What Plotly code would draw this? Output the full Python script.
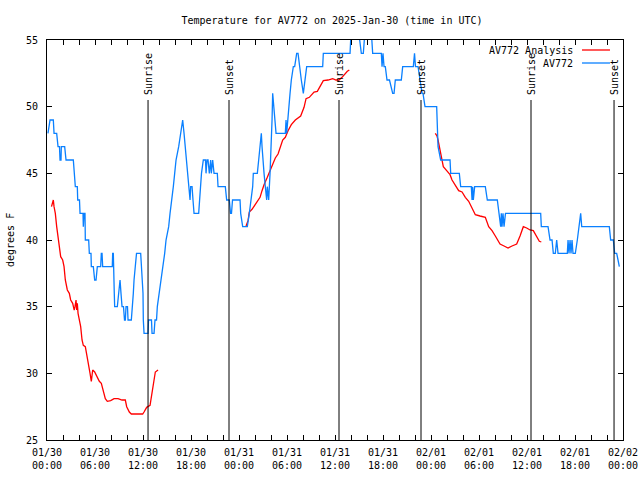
import pandas as pd
import plotly.graph_objects as go

# ---- data (hours since 2025-01-30 00:00 UTC, temperature in degrees F) ----
obs_hours = [0.12, 0.38, 0.79, 0.88, 1.21, 1.38, 1.56, 1.63, 1.75, 1.79, 2.21, 2.38, 3.29, 3.38, 3.54, 3.79,
             3.84, 4.06, 4.13, 4.5, 4.54, 4.63, 4.75, 4.79, 5.21, 5.29, 5.5, 5.54, 5.79, 5.96, 6.13, 6.29,
             6.71, 6.79, 6.88, 6.96, 8.16, 8.21, 8.29, 8.41, 8.46, 8.79, 8.94, 9.04, 9.13, 9.25, 9.38, 9.56,
             9.69, 9.79, 9.88, 10.06, 10.13, 10.54, 10.69, 10.79, 10.88, 11.06, 11.19, 11.71, 11.79, 12.0,
             12.04, 12.13, 12.63, 12.69, 12.79, 13.06, 13.13, 13.38, 13.5, 13.69, 13.79, 14.04, 14.29, 14.54,
             14.71, 14.88, 15.21, 15.38, 15.63, 15.79, 15.96, 16.13, 16.46, 16.71, 16.88, 16.96, 17.13, 17.29,
             17.46, 17.63, 17.79, 17.88, 17.96, 18.13, 18.25, 18.38, 18.96, 19.06, 19.21, 19.31, 19.54, 19.81,
             19.88, 20.0, 20.13, 20.29, 20.46, 20.54, 20.71, 20.88, 21.29, 21.38, 22.29, 22.46, 22.79, 22.94,
             23.06, 23.19, 24.13, 24.21, 24.46, 25.04, 25.29, 25.54, 25.71, 25.79, 26.29, 26.46, 26.63, 26.79,
             26.88, 26.96, 27.13, 27.29, 27.46, 27.54, 27.71, 27.88, 28.04, 28.13, 28.21, 28.38, 28.54, 28.63,
             29.79, 29.88, 29.96, 30.13, 30.21, 30.38, 30.54, 30.79, 30.96, 31.21, 31.38, 31.54, 31.79, 32.04,
             32.21, 32.46, 34.46, 34.54, 37.88, 37.96, 38.04, 38.88, 39.04, 39.29, 39.54, 39.71, 39.79, 40.5,
             40.59, 40.71, 41.79, 41.88, 42.0, 42.13, 42.29, 42.5, 42.81, 43.21, 43.38, 43.54, 44.29, 44.46,
             45.79, 45.94, 46.06, 46.38, 46.63, 46.88, 47.0, 47.25, 48.71, 48.75, 48.81, 48.88, 49.21, 50.38,
             50.46, 51.54, 51.71, 53.04, 53.13, 53.21, 53.29, 53.46, 54.79, 55.04, 56.29, 56.46, 56.71, 56.79,
             56.88, 57.0, 57.13, 57.31, 61.71, 61.79, 62.63, 62.88, 63.13, 63.29, 63.54, 63.71, 63.88, 65.04,
             65.13, 65.25, 65.38, 65.5, 65.63, 65.75, 66.04, 66.29, 66.54, 66.71, 66.84, 67.04, 70.29, 70.46,
             70.79, 70.96, 71.21, 71.38, 71.54]
obs_temp = [48, 49, 49, 48, 48, 47, 47, 46, 46, 47, 47, 46, 46, 45, 44, 44,
            43, 43, 42, 42, 41, 42, 42, 40, 40, 39, 39, 38, 38, 37, 37, 38,
            38, 39, 39, 38, 38, 39, 39, 36, 35, 35, 36, 37, 37, 36, 35, 35,
            34, 34, 35, 35, 34, 34, 35, 36, 37, 38, 39, 39, 38, 36,
            34, 33, 33, 34, 34, 34, 33, 33, 34, 34, 35, 36, 37, 38,
            39, 40, 41, 42, 43, 44, 45, 46, 47, 48, 49, 49, 48, 47,
            46, 45, 44, 43, 44, 44, 43, 42, 42, 43, 44, 45, 46, 46,
            45, 46, 46, 45, 46, 45, 46, 45, 45, 44, 44, 43, 43, 42,
            42, 43, 43, 42, 41, 41, 42, 43, 44, 45, 45, 46, 47, 48,
            47, 46, 45, 44, 43, 44, 43, 45, 47, 49, 51, 50, 49, 48,
            48, 49, 48, 49, 50, 51, 52, 53, 53, 54, 54, 53, 52, 51,
            52, 53, 53, 54, 54, 55, 56, 56, 55, 54, 54, 55, 56, 56,
            55, 54, 54, 53, 54, 53, 53, 52, 52, 51, 51, 52, 52, 53,
            53, 54, 53, 53, 52, 51, 51, 50, 50, 49, 48, 47, 46, 46,
            45, 45, 44, 44, 43, 44, 43, 44, 44, 43, 43, 42, 41, 42,
            41, 42, 41, 42, 42, 41, 41, 40, 40, 39, 39, 40, 39, 39,
            40, 39, 40, 39, 40, 39, 39, 40, 41, 42, 41, 41, 41, 40,
            40, 39, 39, 38.5, 38]

ana_hours_1 = [0.56, 0.69, 0.79, 0.88, 1.04, 1.21, 1.38, 1.54, 1.71, 1.96, 2.13, 2.29, 2.54, 2.79, 2.96, 3.21,
               3.4, 3.5, 3.63, 3.71, 3.79, 3.88, 4.04, 4.21, 4.38, 4.54, 4.79, 4.96, 5.13, 5.21, 5.38, 5.54,
               5.71, 5.96, 6.21, 6.54, 6.79, 7.04, 7.29, 7.54, 7.96, 8.38, 8.88, 9.38, 9.79, 9.96, 10.29,
               10.54, 11.96, 12.13, 12.46, 12.88, 13.04, 13.21, 13.38, 13.54, 13.88]
ana_temp_1 = [42.5, 42.9, 43.0, 42.5, 42.0, 41.0, 40.25, 39.25, 38.75, 38.5, 38.0, 37.0, 36.25, 36.0, 35.5, 35.25,
              34.75, 35.0, 35.5, 34.75, 35.25, 34.5, 34.0, 33.5, 32.5, 32.1, 32.0, 31.5, 31.0, 30.5, 30.0, 29.4,
              30.25, 30.1, 29.75, 29.4, 29.25, 28.75, 28.1, 27.9, 27.95, 28.1, 28.1, 28.0, 28.0, 27.5, 27.1,
              26.95, 26.95, 27.1, 27.45, 27.6, 28.25, 29.0, 29.5, 30.1, 30.25]
ana_hours_2 = [24.88, 25.13, 25.29, 25.63, 25.96, 26.38, 26.63, 26.88, 27.13, 27.54, 27.88, 28.21, 28.54, 28.88,
               29.21, 29.46, 29.79, 30.13, 30.54, 31.04, 31.71, 32.13, 32.38, 32.79, 33.38, 33.79, 34.21, 34.54,
               35.13, 35.71, 36.13, 36.5, 36.88, 37.21, 37.54, 37.79]
ana_temp_2 = [41.05, 41.45, 42.1, 42.3, 42.6, 42.95, 43.2, 43.7, 44.15, 44.7, 45.2, 45.8, 46.15, 46.45,
              47.1, 47.5, 47.7, 48.2, 48.65, 49.0, 49.3, 49.95, 50.6, 50.7, 51.1, 51.15, 51.6, 51.95,
              52.0, 52.1, 52.0, 52.0, 52.2, 52.45, 52.65, 52.75]
ana_hours_3 = [48.54, 48.75, 48.88, 49.04, 49.21, 49.38, 49.54, 49.96, 50.38, 50.63, 50.96, 51.46, 51.88, 52.29,
               52.71, 53.13, 53.54, 54.13, 54.79, 55.21, 55.63, 56.04, 56.63, 57.13, 57.63, 58.13, 58.71, 59.13,
               59.54, 59.96, 60.38, 60.79, 61.21, 61.54, 61.79]
ana_temp_3 = [48.0, 47.8, 47.5, 47.0, 46.45, 45.95, 45.5, 45.2, 44.9, 44.5, 44.2, 43.7, 43.6, 43.2,
              42.9, 42.4, 41.9, 41.8, 41.7, 41.0, 40.7, 40.3, 39.7, 39.55, 39.4, 39.55, 39.7, 40.3,
              41.0, 40.9, 40.75, 40.7, 40.3, 39.9, 39.85]

sun_event_hours = [12.63, 22.75, 36.5, 46.75, 60.5, 70.88]
sun_event_names = ["Sunrise", "Sunset", "Sunrise", "Sunset", "Sunrise", "Sunset"]

tick_hours = list(range(0, 73, 2))
y_ticks = [25, 30, 35, 40, 45, 50, 55]

# ---- build figure ----
start = pd.Timestamp("2025-01-30 00:00")
to_t = lambda hs: [start + pd.Timedelta(hours=h) for h in hs]

ana_x = to_t(ana_hours_1) + [None] + to_t(ana_hours_2) + [None] + to_t(ana_hours_3)
ana_y = ana_temp_1 + [None] + ana_temp_2 + [None] + ana_temp_3

RED = "#ff0000"
BLUE = "#0a80ff"
FONT = "DejaVu Sans Mono"

fig = go.Figure()
fig.add_trace(go.Scatter(x=ana_x, y=ana_y, mode="lines", line=dict(color=RED, width=1.3),
                         connectgaps=False, name="AV772 Analysis", showlegend=False))
fig.add_trace(go.Scatter(x=to_t(obs_hours), y=obs_temp, mode="lines", line=dict(color=BLUE, width=1.3),
                         name="AV772", showlegend=False))

y_top = 50.5
for h, name in zip(sun_event_hours, sun_event_names):
    t = start + pd.Timedelta(hours=h)
    fig.add_shape(type="line", x0=t, x1=t, y0=25, y1=y_top, xref="x", yref="y",
                  line=dict(color="black", width=1))
    fig.add_annotation(x=t, y=y_top, xref="x", yref="y", text=name, textangle=-90,
                       showarrow=False, xanchor="center", yanchor="bottom", yshift=3,
                       font=dict(family=FONT, size=10, color="black"))

# manual gnuplot-style key (text right, sample line on the right)
legend_rows = [("AV772 Analysis", RED, 0.975), ("AV772", BLUE, 0.9425)]
for label, col, yp in legend_rows:
    fig.add_annotation(x=0.9167, y=yp, xref="paper", yref="paper", text=label, showarrow=False,
                       xanchor="right", yanchor="middle", font=dict(family=FONT, size=10, color="black"))
    fig.add_shape(type="line", x0=0.9288, x1=0.9774, y0=yp, y1=yp, xref="paper", yref="paper",
                  line=dict(color=col, width=1.3))

# y-axis title as free text (paper coords are relative to the plot area: 47..623 px)
fig.add_annotation(x=(10 - 47) / 576, y=0.5, xref="paper", yref="paper", text="degrees F",
                   textangle=-90, showarrow=False, xanchor="center", yanchor="middle",
                   font=dict(family=FONT, size=10, color="black"))

tick_vals = to_t(tick_hours)
tick_text = [(start + pd.Timedelta(hours=h)).strftime("%m/%d<br>%H:%M") if h % 6 == 0 else ""
             for h in tick_hours]

fig.update_layout(
    width=640, height=480,
    margin=dict(l=47, r=17, t=40, b=40, autoexpand=False),
    paper_bgcolor="white", plot_bgcolor="white",
    font=dict(family=FONT, size=10, color="black"),
    title=dict(text="Temperature for AV772 on 2025-Jan-30 (time in UTC)", x=332 / 640, xanchor="center",
               y=1 - 20 / 480, yanchor="middle", font=dict(family=FONT, size=10, color="black")),
    xaxis=dict(type="date", range=[start, start + pd.Timedelta(hours=72)], tickmode="array",
               tickvals=tick_vals, ticktext=tick_text, ticks="inside", ticklen=5, tickcolor="black",
               showline=True, linecolor="black", linewidth=1, mirror="ticks", showgrid=False,
               zeroline=False, automargin=False, ticklabelstandoff=3, tickfont=dict(family=FONT, size=10)),
    yaxis=dict(range=[25, 55], tickmode="array", tickvals=y_ticks, ticks="inside", ticklen=5,
               tickcolor="black", showline=True, linecolor="black", linewidth=1, mirror="ticks",
               showgrid=False, zeroline=False, ticklabelstandoff=6, automargin=False,
               tickfont=dict(family=FONT, size=10)),
)

fig.write_html("out.html", config={"displayModeBar": False},
               post_script="document.body.style.margin='0';")
